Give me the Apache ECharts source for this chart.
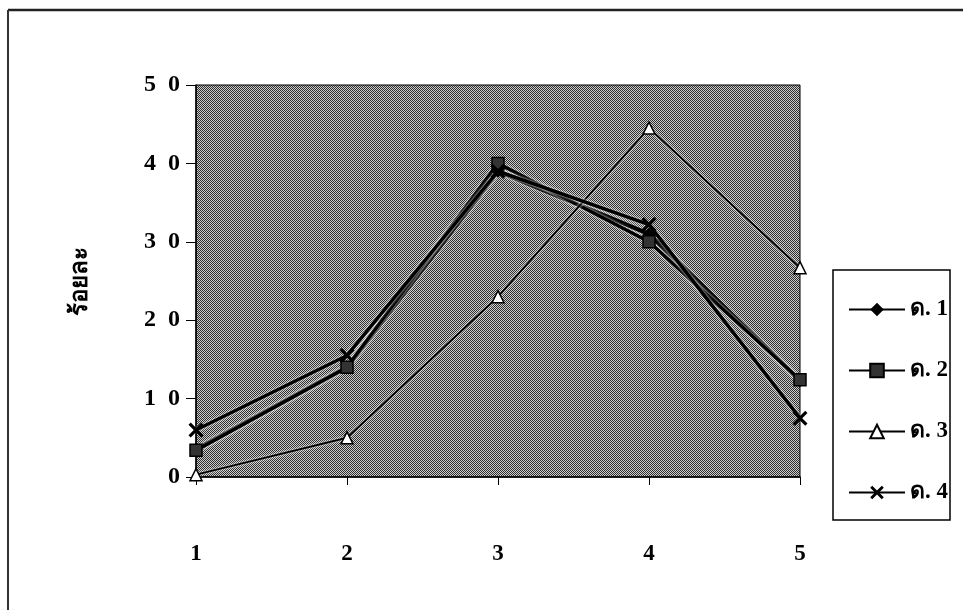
<!DOCTYPE html>
<html>
<head>
<meta charset="utf-8">
<script src="https://cdn.jsdelivr.net/npm/echarts@6/dist/echarts.min.js"></script>
<style>
  html, body { margin: 0; padding: 0; background: #fff; }
  #chart { width: 963px; height: 610px; }
</style>
</head>
<body>
<div id="chart"></div>
<script>
// ข้อมูลที่อ่านจากภาพ
var categories = ['1', '2', '3', '4', '5']
var seriesNames = ['ด. 1', 'ด. 2', 'ด. 3', 'ด. 4']
var d1 = [3.5, 14, 39, 31, 12.3]
var d2 = [3.4, 14, 40, 30, 12.4]
var d3 = [0.3, 5, 23, 44.5, 26.7]
var d4 = [6, 15.5, 39, 32.2, 7.5]
var yTicks = [0, 10, 20, 30, 40, 50]

// พื้นหลังแบบจุดเทา (halftone)
function makePattern () {
  var c = document.createElement('canvas')
  c.width = 4
  c.height = 4
  var g = c.getContext('2d')
  g.fillStyle = '#cdcdcd'
  g.fillRect(0, 0, 4, 4)
  g.fillStyle = '#2e2e2e'
  for (var y = 0; y < 4; y++) {
    for (var x = 0; x < 4; x++) {
      if ((x + y) % 2 === 0) g.fillRect(x, y, 1, 1)
    }
  }
  return c
}

var crossPath = 'path://M0,1.5L1.5,0L5,3.5L8.5,0L10,1.5L6.5,5L10,8.5L8.5,10L5,6.5L1.5,10L0,8.5L3.5,5Z'
var halo = { shadowColor: '#ffffff', shadowBlur: 3 }
var labelFont = 'Liberation Serif, serif'

var myChart = echarts.init(document.getElementById('chart'))
myChart.setOption({
  animation: false,
  color: ['#000', '#000', '#000', '#000'],
  grid: {
    left: 196,
    right: 163,
    top: 85,
    bottom: 133,
    show: true,
    backgroundColor: { image: makePattern(), repeat: 'repeat' },
    borderColor: '#000',
    borderWidth: 1
  },
  legend: {
    orient: 'vertical',
    left: 843,
    top: 293,
    itemWidth: 56,
    itemHeight: 17,
    itemGap: 38,
    itemTextGap: 6,
    data: seriesNames,
    textStyle: {
      fontFamily: labelFont,
      fontWeight: 'bold',
      fontSize: 23,
      color: '#000'
    }
  },
  xAxis: {
    type: 'category',
    data: categories,
    boundaryGap: false,
    axisLine: { lineStyle: { color: '#000', width: 1.5 } },
    axisTick: { show: true, length: 8, lineStyle: { color: '#000' } },
    axisLabel: {
      margin: 66,
      color: '#000',
      fontFamily: labelFont,
      fontWeight: 'bold',
      fontSize: 23
    }
  },
  yAxis: {
    type: 'value',
    min: 0,
    max: 50,
    interval: 10,
    name: 'ร้อยละ',
    nameLocation: 'middle',
    nameRotate: 90,
    nameGap: 104,
    nameTextStyle: {
      color: '#000',
      fontWeight: 'bold',
      fontSize: 24
    },
    axisLine: { show: true, lineStyle: { color: '#000', width: 1.5 } },
    axisTick: { show: true, length: 10, lineStyle: { color: '#000' } },
    splitLine: { show: false },
    axisLabel: {
      margin: 16,
      color: '#000',
      fontFamily: labelFont,
      fontWeight: 'bold',
      fontSize: 24,
      formatter: function (v) {
        return yTicks.indexOf(v) >= 0 ? String(v).split('').join('\u2002') : ''
      }
    }
  },
  series: [
    {
      name: seriesNames[0], type: 'line', data: d1,
      symbol: 'diamond', symbolSize: 13,
      lineStyle: Object.assign({ color: '#000', width: 4.5 }, halo),
      itemStyle: { color: '#000' }
    },
    {
      name: seriesNames[1], type: 'line', data: d2,
      symbol: 'rect', symbolSize: 12,
      lineStyle: Object.assign({ color: '#000', width: 3.5 }, halo),
      itemStyle: { color: '#333', borderColor: '#000', borderWidth: 1.5 }
    },
    {
      name: seriesNames[2], type: 'line', data: d3,
      symbol: 'triangle', symbolSize: 12,
      lineStyle: Object.assign({ color: '#000', width: 2 }, halo),
      itemStyle: { color: '#fff', borderColor: '#000', borderWidth: 1.5 }
    },
    {
      name: seriesNames[3], type: 'line', data: d4,
      symbol: crossPath, symbolSize: 15,
      lineStyle: Object.assign({ color: '#000', width: 3.5 }, halo),
      itemStyle: { color: '#000' }
    }
  ],
  graphic: [
    { type: 'line', shape: { x1: 8, y1: 10, x2: 963, y2: 10 }, style: { stroke: '#222', lineWidth: 2.5 } },
    { type: 'line', shape: { x1: 8, y1: 10, x2: 8, y2: 610 }, style: { stroke: '#333', lineWidth: 2 } },
    {
      type: 'rect', z: -1,
      shape: { x: 833, y: 270, width: 117, height: 250 },
      style: { fill: '#fff', stroke: '#000', lineWidth: 1.5 }
    }
  ]
})
</script>
</body>
</html>
